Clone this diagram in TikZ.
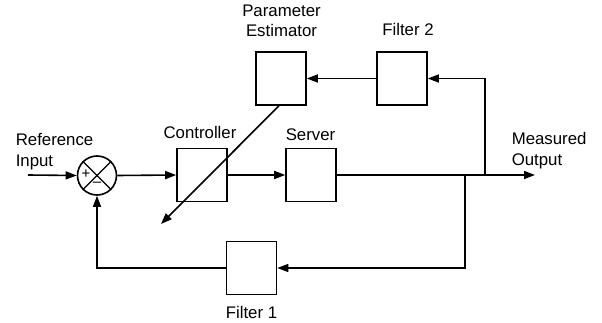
\documentclass[tikz,border=0pt]{standalone}
\usepackage{fontspec}
\setmainfont{Liberation Sans}
\usetikzlibrary{arrows.meta}
\begin{document}
\begin{tikzpicture}[x=1pt,y=-1pt,
  line width=1.6pt,
  blk/.style={draw,minimum width=50pt,minimum height=53pt,inner sep=0pt},
  lbl/.style={font=\fontsize{16.8}{20.5}\selectfont,inner sep=0pt},
  sig/.style={-{Triangle[length=11pt,width=8pt]}}]
\useasboundingbox (0,0) rectangle (602,323);
% blocks
\node[blk] (ctrl) at (202,175) {};
\node[blk] (srv) at (311,175) {};
\node[blk] (est) at (281,78.5) {};
\node[blk] (f2) at (402,78.5) {};
\node[blk] (f1) at (251.5,268) {};
\node[draw,circle,minimum size=39pt,inner sep=0pt] (sum) at (97,175.5) {};
\draw[line width=1.2pt] (sum.north west) -- (sum.south east);
\draw[line width=1.2pt] (sum.north east) -- (sum.south west);
\node[font=\fontsize{15}{15}\selectfont,inner sep=0pt] (plus) at ([xshift=-11pt,yshift=1pt]sum.center) {+};
\node[font=\fontsize{15}{15}\selectfont,inner sep=0pt] (minus) at ([yshift=-9pt]sum.center) {--};
% labels
\node[lbl,anchor=north west,align=left] (refin) at (15,133) {Reference\\Input};
\node[lbl,anchor=north west,align=left] (mout) at (511,132) {Measured\\Output};
\node[lbl,anchor=north,align=center] (estl) at (281.5,4) {Parameter\\Estimator};
\node[lbl,anchor=base] (f2l) at (408,36) {Filter 2};
\node[lbl,anchor=base] (ctrll) at (200,139) {Controller};
\node[lbl,anchor=base] (srvl) at (310.5,141) {Server};
\node[lbl,anchor=base] (f1l) at (251.5,318) {Filter 1};
% coordinates
\coordinate (in) at (28,175);
\coordinate (out) at (535,175);
\coordinate (b1) at (465,175);
\coordinate (b2) at (485,175);
\coordinate (adj) at (161,224);
% connectors
\draw[sig] (in) -- (sum.west);
\draw[sig] (sum.east) -- (ctrl.west);
\draw[sig] (ctrl.east) -- (srv.west);
\draw[sig] (srv.east) -- (out);
\draw[sig] (b2) |- (f2.east);
\draw[sig] (f2.west) -- (est.east);
\draw[sig] ([xshift=-2pt]est.south) -- (adj);
\draw[sig] (b1) |- (f1.east);
\draw[sig] (f1.west) -| (sum.south);
\end{tikzpicture}
\end{document}
